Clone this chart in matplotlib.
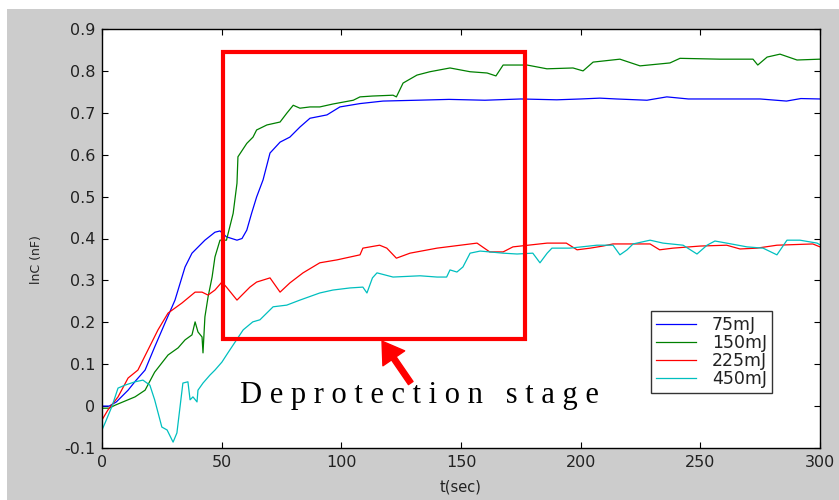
import matplotlib
matplotlib.use("Agg")
import matplotlib.pyplot as plt
import matplotlib.patches as patches

# data
t_75 = [0, 3, 6, 10.9, 14, 18, 22, 26.3, 30.5, 34.7, 37.6, 43, 47.2, 49.3, 52,
        56.4, 58.5, 60.5, 62.5, 64.6, 67.3, 70.2, 74.4, 78.5, 82.7, 86.9, 94, 99.4,
        107.8, 117.4, 131.6, 145, 160, 175, 190, 200, 208, 215, 227.7, 236, 245,
        260, 275, 286, 292, 300]
y_75 = [0, 0, 0.01, 0.038, 0.06, 0.086, 0.141, 0.198, 0.253, 0.332, 0.365, 0.396,
        0.415, 0.418, 0.404, 0.396, 0.40, 0.42, 0.46, 0.499, 0.54, 0.604, 0.63, 0.642,
        0.666, 0.687, 0.695, 0.714, 0.722, 0.728, 0.73, 0.732, 0.73, 0.733, 0.731,
        0.733, 0.735, 0.733, 0.73, 0.738, 0.733, 0.733, 0.733, 0.728, 0.734, 0.733]

t_150 = [0, 3, 5.4, 13.8, 18, 22, 27.6, 31.8, 34.7, 37.6, 38.9, 40.1, 41.8, 42.2, 43,
         44.3, 46, 47.2, 49.3, 52, 54.8, 56.4, 56.8, 60.5, 63.1, 64.6, 68.9, 74.4,
         77.2, 79.9, 82.7, 86.9, 91, 96.5, 105, 107.8, 113, 121.6, 123, 125.8, 131.6,
         137, 145.4, 153.8, 160.9, 164.6, 167.6, 177.6, 185.9, 196.8, 201, 205.2,
         216.4, 224.8, 237.3, 241.5, 258.2, 272, 274, 277.9, 283.3, 290.4, 300]
y_150 = [-0.005, -0.005, 0.002, 0.022, 0.038, 0.081, 0.122, 0.139, 0.158, 0.17, 0.201,
         0.177, 0.165, 0.127, 0.213, 0.26, 0.308, 0.356, 0.396, 0.396, 0.46, 0.532,
         0.595, 0.627, 0.642, 0.659, 0.671, 0.678, 0.699, 0.718, 0.711, 0.714, 0.714,
         0.721, 0.73, 0.738, 0.74, 0.742, 0.738, 0.771, 0.79, 0.798, 0.807, 0.798,
         0.795, 0.788, 0.814, 0.814, 0.805, 0.807, 0.8, 0.821, 0.828, 0.812, 0.819,
         0.83, 0.828, 0.828, 0.814, 0.833, 0.84, 0.826, 0.828]

t_225 = [0, 2.5, 6.7, 10.9, 15, 19.2, 23.4, 27.6, 33.4, 38.9, 41.8, 44.3, 47.2, 50.1,
         52, 56.4, 61.8, 64.6, 70.2, 74.4, 78.5, 84, 91, 98.2, 107.8, 109, 116, 119,
         123, 128.7, 140, 156.7, 162, 167.6, 171.7, 186, 194, 198.5, 204, 209.3,
         213.5, 229, 233, 238.6, 250, 261, 266.6, 273.7, 282, 297, 300]
y_225 = [-0.033, -0.009, 0.022, 0.067, 0.086, 0.134, 0.182, 0.222, 0.246, 0.272,
         0.272, 0.265, 0.277, 0.296, 0.284, 0.253, 0.284, 0.296, 0.306, 0.272, 0.294,
         0.318, 0.342, 0.349, 0.361, 0.377, 0.384, 0.377, 0.353, 0.365, 0.377, 0.389,
         0.368, 0.368, 0.38, 0.389, 0.389, 0.373, 0.377, 0.382, 0.387, 0.387, 0.373,
         0.377, 0.382, 0.384, 0.375, 0.377, 0.384, 0.387, 0.38]

t_450 = [0, 1.3, 4.2, 6.7, 9.6, 13.8, 17.1, 20, 22, 25, 27.2, 29.7, 31.3, 32.6, 33.8,
         35.9, 36.8, 38, 39.7, 40.1, 42.2, 45.1, 47.2, 50.1, 52.6, 59, 63, 66, 71.5,
         77.2, 82.7, 91, 96.5, 103.6, 109, 110.7, 113, 114.9, 121.6, 132.9, 140, 144,
         145.4, 148.3, 150.8, 153.8, 158, 162, 167.6, 173.4, 180, 183, 186, 188, 195.5,
         206.8, 213.5, 216.4, 219.4, 221.9, 229, 234.4, 242.8, 248.6, 252.8, 256.1,
         261, 269.5, 276.2, 282, 286.2, 291.6, 298.8, 300]
y_450 = [-0.057, -0.04, 0.0, 0.043, 0.05, 0.058, 0.062, 0.05, 0.015, -0.05, -0.057,
         -0.086, -0.064, -0.002, 0.055, 0.058, 0.015, 0.022, 0.01, 0.038, 0.055, 0.074,
         0.086, 0.105, 0.127, 0.182, 0.201, 0.206, 0.237, 0.241, 0.253, 0.27, 0.277,
         0.282, 0.284, 0.27, 0.306, 0.318, 0.308, 0.311, 0.308, 0.308, 0.325, 0.32,
         0.332, 0.365, 0.37, 0.368, 0.365, 0.363, 0.365, 0.342, 0.365, 0.377, 0.377,
         0.384, 0.384, 0.361, 0.373, 0.387, 0.396, 0.389, 0.384, 0.363, 0.384, 0.394,
         0.389, 0.38, 0.377, 0.361, 0.396, 0.396, 0.389, 0.385]

labels = ["75mJ", "150mJ", "225mJ", "450mJ"]
x_ticks = [0, 50, 100, 150, 200, 250, 300]
y_ticks = [-0.1, 0, 0.1, 0.2, 0.3, 0.4, 0.5, 0.6, 0.7, 0.8, 0.9]
y_ticklabels = ["-0.1", "0", "0.1", "0.2", "0.3", "0.4", "0.5", "0.6", "0.7", "0.8", "0.9"]

plt.rcParams['font.family'] = ['DejaVu Sans']

fig = plt.figure(figsize=(8.39, 5.0), dpi=100)
fig.patch.set_facecolor('white')
# matlab-ish grey frame, kept behind the axes
fig.patches.append(patches.Rectangle((7 / 839, 0), 1, 491 / 500, transform=fig.transFigure,
                                     facecolor='#cccccc', edgecolor='none', zorder=-10))

ax = fig.add_axes([102 / 839, 52 / 500, 718 / 839, 419 / 500])
ax.set_zorder(1)
ax.set_facecolor('white')

colors = ['#0000ff', '#008000', '#ff0000', '#00bfbf']
series = [(t_75, y_75), (t_150, y_150), (t_225, y_225), (t_450, y_450)]
for (t, y), c, lab in zip(series, colors, labels):
    ax.plot(t, y, color=c, lw=0.9, label=lab)

ax.set_xlim(0, 300)
ax.set_ylim(-0.1, 0.9)
ax.set_xticks(x_ticks)
ax.set_yticks(y_ticks)
ax.set_yticklabels(y_ticklabels)
ax.tick_params(direction='in', top=True, right=True, length=4, labelsize=11.5, pad=5,
               labelcolor='#222222')
for s in ax.spines.values():
    s.set_linewidth(1.0)

ax.set_xlabel('t(sec)', fontsize=10.5, color='#222222')
ax.xaxis.set_label_coords(0.5, -0.075)
ax.set_ylabel('lnC (nF)', fontsize=9, color='#222222')
ax.yaxis.set_label_coords(-0.082, 0.45)

leg = ax.legend(loc='upper left', bbox_to_anchor=(0.765, 0.327), fontsize=12.5,
                handlelength=2.3, frameon=True, fancybox=False, borderpad=0.3,
                labelspacing=0.0, handletextpad=0.9, borderaxespad=0)
leg.get_frame().set_edgecolor('black')
leg.get_frame().set_linewidth(1.0)
for txt in leg.get_texts():
    txt.set_color('#222222')

# annotation box + arrow + text
ax.add_patch(patches.Rectangle((50.5, 0.16), 126.3, 0.685, fill=False,
                               edgecolor='red', lw=3, zorder=5))
ax.annotate('', xy=(117, 0.155), xytext=(129, 0.055),
            arrowprops=dict(facecolor='red', edgecolor='red', width=4,
                            headwidth=19, headlength=15, shrink=0))
ax.text(57.7, 0.007, 'D e p r o t e c t i o n   s t a g e', family='Liberation Serif',
        fontsize=22, va='baseline', ha='left', color='black')

fig.savefig('out.png', dpi=100, facecolor=fig.get_facecolor())
